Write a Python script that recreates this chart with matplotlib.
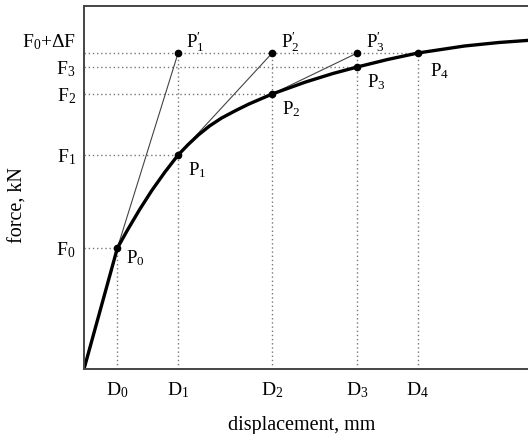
import matplotlib
matplotlib.use("Agg")
import matplotlib.pyplot as plt

plt.rcParams["font.family"] = ["Liberation Serif", "DejaVu Serif"]
plt.rcParams["mathtext.fontset"] = "custom"
plt.rcParams["mathtext.rm"] = "Liberation Serif"
plt.rcParams["mathtext.it"] = "Liberation Serif:italic"

# displacement levels D0..D4 and force levels F0..F3, F0+dF
D = [3.3, 9.3, 18.6, 27.0, 33.0]
F = [12.1, 21.4, 27.5, 30.2]
F_TOP = 31.6

# load-displacement curve
curve_x = [0, 3.3, 4.3, 5.5, 6.7, 8.0, 9.3, 10.3, 11.3, 12.4, 13.6, 15.0, 16.3, 18.6,
           21.9, 24.6, 27.0, 30.0, 33.0, 37.6, 41.0, 44.4]
curve_y = [0, 12.1, 13.9, 15.95, 17.85, 19.7, 21.4, 22.45, 23.4, 24.3, 25.1, 25.85, 26.5,
           27.5, 28.7, 29.55, 30.2, 30.95, 31.6, 32.3, 32.65, 32.9]

y_labels = [r"$\mathrm{F}_0$", r"$\mathrm{F}_1$", r"$\mathrm{F}_2$", r"$\mathrm{F}_3$"]
top_label = r"$\mathrm{F}_0\mathrm{+\Delta F}$"
x_labels = [r"$\mathrm{D}_%d$" % i for i in range(5)]

fig = plt.figure(figsize=(5.28, 4.34), dpi=100)
ax = fig.add_axes([84 / 528, 65 / 434, 1 - 84 / 528 + 0.01, 363 / 434])

dot = dict(color="#777777", lw=1.0, ls=(0, (1, 2)))

# guide lines
for i in range(4):
    ax.plot([0, D[i]], [F[i], F[i]], **dot)
ax.plot([0, D[4]], [F_TOP, F_TOP], **dot)
ax.plot([D[0], D[0]], [0, F[0]], **dot)
for i in range(1, 5):
    ax.plot([D[i], D[i]], [0, F_TOP], **dot)

# secant lines P(i-1) -> P'(i)
for i in range(1, 4):
    ax.plot([D[i - 1], D[i]], [F[i - 1], F_TOP], color="#444444", lw=0.8)

ax.plot(curve_x, curve_y, color="black", lw=2.4, solid_capstyle="round",
        solid_joinstyle="round")

pts_x = D[:4] + [D[4]] + D[1:4]
pts_y = F + [F_TOP] + [F_TOP] * 3
ax.plot(pts_x, pts_y, "o", color="black", ms=4.5)

# point labels
lab_kw = dict(textcoords="offset points", fontsize=13.5, va="center", ha="left")
ax.annotate(r"$\mathrm{P}_0$", (D[0], F[0]), xytext=(6, -7), **lab_kw)
for i in range(1, 4):
    ax.annotate(r"$\mathrm{P}_%d$" % i, (D[i], F[i]), xytext=(7, -11), **lab_kw)
    ax.annotate(r"$\mathrm{P}_%d^{\prime}$" % i, (D[i], F_TOP), xytext=(6, 8), **lab_kw)
ax.annotate(r"$\mathrm{P}_4$", (D[4], F_TOP), xytext=(9, -13), **lab_kw)

ax.set_xlim(0, 44.4)
ax.set_ylim(0, 36.3)
ax.set_xticks(D)
ax.set_xticklabels(x_labels, fontsize=14)
ax.set_yticks(F)
ax.set_yticklabels(y_labels, fontsize=14)
ax.tick_params(axis="both", length=0)
ax.tick_params(axis="x", pad=8)
ax.tick_params(axis="y", pad=6)
ax.annotate(top_label, (0, F_TOP), xycoords=("axes fraction", "data"),
            xytext=(-6, 8), textcoords="offset points", fontsize=14,
            ha="right", va="center")

for s in ["left", "bottom", "top"]:
    ax.spines[s].set_color("#444444")
    ax.spines[s].set_linewidth(1.4)
ax.spines["right"].set_visible(False)

ax.set_xlabel("displacement, mm", fontsize=14.5)
ax.xaxis.set_label_coords((302 - 84) / (528 - 84 + 5), -47 / 363)
ax.set_ylabel("force, kN", fontsize=14.5)
ax.yaxis.set_label_coords(-56 / (528 - 84 + 5), (369 - 205) / 363)

fig.savefig("out.png", dpi=100)
